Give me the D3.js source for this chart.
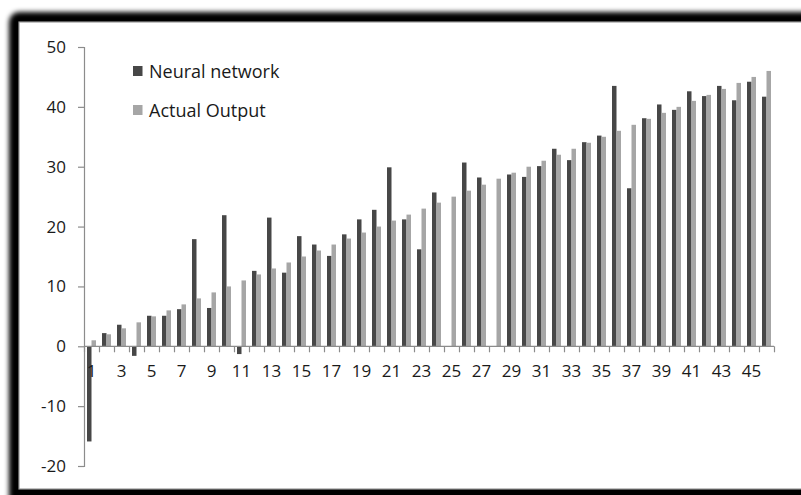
<!DOCTYPE html>
<html>
<head>
<meta charset="utf-8">
<script src="https://cdn.jsdelivr.net/npm/d3@7/dist/d3.min.js"></script>
<style>
  html, body { margin: 0; padding: 0; background: #fff; }
  svg { display: block; }
  text { font-family: "Open Sans", Lato, sans-serif; fill: #1a1a1a; }
</style>
</head>
<body>
<svg id="chart" width="801" height="495"></svg>
<script>
// Sample index 1..46
const categories = d3.range(1, 47).map(String);

const neuralNetwork = [
  -15.9, 2.2, 3.6, -1.6, 5.1, 5.1, 6.2, 17.9, 6.4, 21.9,
  -1.3, 12.6, 21.5, 12.3, 18.4, 17.0, 15.1, 18.7, 21.2, 22.8,
  29.9, 21.2, 16.2, 25.7, 0, 30.7, 28.2, 0, 28.7, 28.3,
  30.1, 33.0, 31.1, 34.1, 35.2, 43.5, 26.4, 38.1, 40.4, 39.5,
  42.6, 41.8, 43.5, 41.1, 44.2, 41.7
];

const actualOutput = [
  1, 2, 3, 4, 5, 6, 7, 8, 9, 10,
  11, 12, 13, 14, 15, 16, 17, 18, 19, 20,
  21, 22, 23, 24, 25, 26, 27, 28, 29, 30,
  31, 32, 33, 34, 35, 36, 37, 38, 39, 40,
  41, 42, 43, 44, 45, 46
];

const seriesNames = ["Neural network", "Actual Output"];
const seriesColors = ["#474747", "#a6a6a6"];
const yTicks = [-20, -10, 0, 10, 20, 30, 40, 50];

const svg = d3.select("#chart");
const W = 801, H = 495;
const FONT = "'Open Sans', Lato, sans-serif";
const AXIS = "#8c8c8c";

// ---- framed panel with soft dark border ----
const defs = svg.append("defs");
defs.append("filter").attr("id", "soft")
  .attr("x", "-10%").attr("y", "-10%").attr("width", "120%").attr("height", "120%")
  .append("feGaussianBlur").attr("stdDeviation", 2.6);

svg.append("rect").attr("x", 0).attr("y", 0).attr("width", W).attr("height", H).attr("fill", "#fff");
svg.append("rect")
  .attr("x", 9).attr("y", 12).attr("width", W + 40).attr("height", H + 40)
  .attr("rx", 10)
  .attr("fill", "#000")
  .attr("filter", "url(#soft)");
svg.append("rect")
  .attr("x", 19).attr("y", 22).attr("width", W).attr("height", 467)
  .attr("fill", "#fff")
  .attr("stroke", "#9a9a9a").attr("stroke-width", 1.2);

// ---- scales ----
const plot = { left: 84, right: 774, top: 47, bottom: 466 };

const x = d3.scaleBand()
  .domain(categories)
  .range([plot.left, plot.right])
  .paddingInner(0).paddingOuter(0);

const xInner = d3.scaleBand()
  .domain(seriesNames)
  .range([x.bandwidth() * 0.2, x.bandwidth() * 0.8])
  .padding(0);

const y = d3.scaleLinear()
  .domain([-20, 50])
  .range([plot.bottom, plot.top]);

// category boundary ticks along the zero line
const xEdge = d3.scaleLinear().domain([0, categories.length]).range([plot.left, plot.right]);

// ---- bars ----
const seriesData = [neuralNetwork, actualOutput];
const g = svg.append("g");
seriesNames.forEach((name, si) => {
  g.append("g").selectAll("rect")
    .data(seriesData[si].map((v, i) => ({ cat: categories[i], v })))
    .join("rect")
    .attr("x", d => x(d.cat) + xInner(name))
    .attr("width", xInner.bandwidth())
    .attr("y", d => y(Math.max(0, d.v)))
    .attr("height", d => Math.abs(y(d.v) - y(0)))
    .attr("fill", seriesColors[si]);
});

// ---- y axis ----
const yAxis = svg.append("g")
  .attr("transform", `translate(${plot.left},0)`)
  .call(d3.axisLeft(y).tickValues(yTicks).tickSize(6).tickPadding(12)
    .tickFormat(d => String(d)));
yAxis.select(".domain").attr("stroke", AXIS).attr("stroke-width", 1.2);
yAxis.selectAll(".tick line").attr("stroke", AXIS).attr("stroke-width", 1.2);
yAxis.selectAll(".tick text")
  .attr("font-size", 17).attr("fill", "#1a1a1a")
  .style("font-family", FONT);

// ---- x axis: boundary tick marks ----
const xTickAxis = svg.append("g")
  .attr("transform", `translate(0,${y(0)})`)
  .call(d3.axisBottom(xEdge).tickValues(d3.range(0, categories.length + 1))
    .tickSizeInner(6).tickSizeOuter(0).tickFormat(""));
xTickAxis.select(".domain").remove();
xTickAxis.selectAll(".tick line").attr("stroke", AXIS).attr("stroke-width", 1.2);
xTickAxis.append("line")
  .attr("x1", xEdge(0)).attr("x2", xEdge(categories.length))
  .attr("y1", 0).attr("y2", 0)
  .attr("stroke", AXIS).attr("stroke-width", 1.2);

// ---- x axis: category labels (every other) ----
const xLabelAxis = svg.append("g")
  .attr("transform", `translate(0,${y(0)})`)
  .call(d3.axisBottom(x).tickSize(0).tickPadding(19)
    .tickFormat((d, i) => (i % 2 === 0 ? d : "")));
xLabelAxis.select(".domain").remove();
xLabelAxis.selectAll(".tick text")
  .attr("font-size", 17).attr("fill", "#1a1a1a")
  .style("font-family", FONT);

// ---- legend ----
const legend = svg.append("g");
const legendRows = [{ y: 71 }, { y: 110 }];
seriesNames.forEach((name, i) => {
  const row = legend.append("g").attr("transform", `translate(133,${legendRows[i].y})`);
  row.append("rect").attr("x", 0).attr("y", -5).attr("width", 9.5).attr("height", 10)
    .attr("fill", seriesColors[i]);
  row.append("text").attr("x", 16).attr("y", 6.5)
    .attr("font-size", 18).attr("fill", "#1a1a1a")
    .style("font-family", FONT)
    .text(name);
});
</script>
</body>
</html>
